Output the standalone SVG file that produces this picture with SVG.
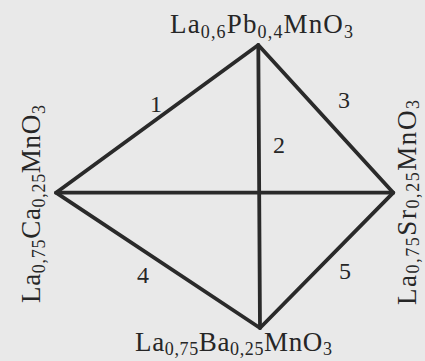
<svg xmlns="http://www.w3.org/2000/svg" width="425" height="361" viewBox="0 0 425 361">
<style>
.lbl{font-family:"Liberation Serif","DejaVu Serif",serif;font-size:27px;fill:#262626}
.s{font-size:18px}
.num{font-family:"Liberation Serif","DejaVu Serif",serif;font-size:24px;fill:#262626;text-anchor:middle}
.ln{stroke:#2a2a2a;stroke-width:3.8;stroke-linecap:round;stroke-linejoin:round;fill:none}
</style>
<rect width="425" height="361" fill="#e9e9e9"/>
<g id="connectors">
<polygon class="ln" points="258.3,45 393.3,192.7 260,328 56,192.7"/>
<line class="ln" x1="258.3" y1="45" x2="260" y2="328"/>
<line class="ln" x1="56" y1="192.7" x2="393.3" y2="192.7"/>
</g>
<g id="edge-labels">
<text class="num" x="156" y="112">1</text>
<text class="num" x="279" y="153">2</text>
<text class="num" x="344" y="108">3</text>
<text class="num" x="143" y="283">4</text>
<text class="num" x="345" y="279">5</text>
</g>
<g id="node-pb">
<text class="lbl" x="170" y="33" textLength="183" lengthAdjust="spacing">La<tspan class="s" dy="5">0,6</tspan><tspan dy="-5">Pb</tspan><tspan class="s" dy="5">0,4</tspan><tspan dy="-5">MnO</tspan><tspan class="s" dy="5">3</tspan></text>
</g>
<g id="node-ba">
<text class="lbl" x="135" y="351" textLength="197" lengthAdjust="spacing">La<tspan class="s" dy="4">0,75</tspan><tspan dy="-4">Ba</tspan><tspan class="s" dy="4">0,25</tspan><tspan dy="-4">MnO</tspan><tspan class="s" dy="4">3</tspan></text>
</g>
<g id="node-ca" transform="translate(40,303) rotate(-90)">
<text class="lbl" x="0" y="0" textLength="198" lengthAdjust="spacing">La<tspan class="s" dy="5">0,75</tspan><tspan dy="-5">Ca</tspan><tspan class="s" dy="5">0,25</tspan><tspan dy="-5">MnO</tspan><tspan class="s" dy="5">3</tspan></text>
</g>
<g id="node-sr" transform="translate(416,305) rotate(-90)">
<text class="lbl" x="0" y="0" textLength="205" lengthAdjust="spacing">La<tspan class="s" dy="3">0,75</tspan><tspan dy="-3">Sr</tspan><tspan class="s" dy="3">0,25</tspan><tspan dy="-3">MnO</tspan><tspan class="s" dy="3">3</tspan></text>
</g>
</svg>
